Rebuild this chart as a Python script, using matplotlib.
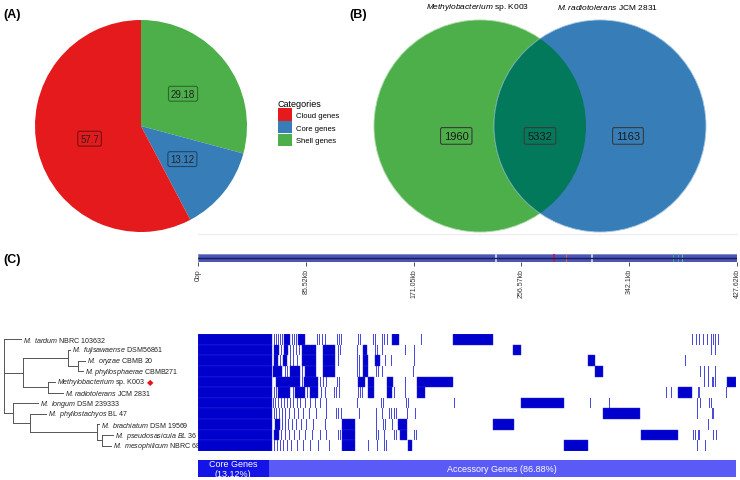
import matplotlib
matplotlib.use('Agg')
import matplotlib.pyplot as plt
from matplotlib.patches import Circle, Patch

plt.rcParams['font.family'] = ['Liberation Sans', 'DejaVu Sans']
plt.rcParams['mathtext.fontset'] = 'custom'
plt.rcParams['mathtext.it'] = 'Liberation Sans:italic'
plt.rcParams['mathtext.rm'] = 'Liberation Sans'

W, H = 740, 481


def box(x0, y0, x1, y1):
    # pixel box (origin top left) -> figure fraction rect
    return [x0 / W, 1 - y1 / H, (x1 - x0) / W, (y1 - y0) / H]


# ---------------- data ----------------
# (A) pan-genome categories (%)
categories = ['Cloud genes', 'Core genes', 'Shell genes']
percent = [57.7, 13.12, 29.18]
cat_colors = ['#E41A1C', '#377EB8', '#4DAF4A']
cat_edges = ['#7A1010', '#1E4568', '#2B6A29']

# (B) venn: only K003, shared, only JCM 2831
venn_names = ['Methylobacterium|sp. K003', 'M.radiotolerans|JCM 2831']
venn_counts = [1960, 5332, 1163]

# (C) genome track
genome_len_kb = 427.62
genome_ticks_kb = [0, 85.52, 171.05, 256.57, 342.1, 427.62]
genome_tick_labels = ['0bp', '85.52kb', '171.05kb', '256.57kb', '342.1kb', '427.62kb']
genome_marks_kb = [236, 282, 292, 312, 377, 381, 384]
genome_mark_colors = ['#C9CBE0', '#B81E50', '#E8663C', '#B9CCCC', '#3AA98E', '#3AA98E', '#6CBBA6']

# (C) tree: leaf = "italic|plain" name, clade = list of (child, branch length)
tree = [
    ('M. tardum|NBRC 103632', 0.050),
    ([
        ([
            ('M. fujisawaense|DSM56861', 0.005),
            ([('M. oryzae|CBMB 20', 0.020), ('M.phyllosphaerae|CBMB271', 0.015)], 0.030),
        ], 0.135),
        ([('Methylobacterium|sp. K003', 0.020), ('M.radiotolerans|JCM 2831', 0.045)], 0.075),
    ], 0.058),
    ([
        ('M. longum|DSM 239333', 0.075),
        ([
            ('M. phyllostachyos|BL 47', 0.048),
            ([
                ('M. brachiatum|DSM 19569', 0.008),
                ([('M. pseudosasicula BL 36|', 0.035), ('M. mesophilicum|NBRC 68', 0.027)], 0.015),
            ], 0.200),
        ], 0.050),
    ], 0.028),
]

# (C) presence/absence along the pan-genome (% of gene clusters), one list per leaf
pa_blocks = [
    [(0, 13.8), (16.0, 17.1), (18.6, 19.9), (36.1, 37.4), (47.4, 54.8)],
    [(0, 13.8), (14.1, 15.1), (16.0, 16.7), (19.3, 21.9), (23.2, 25.5), (30.7, 31.4), (58.6, 60.0)],
    [(0, 13.8), (14.1, 14.9), (15.8, 16.5), (19.3, 21.9), (23.2, 25.5), (30.7, 31.6), (32.9, 33.8), (72.5, 73.8)],
    [(0, 13.8), (13.9, 15.6), (17.1, 19.0), (19.9, 21.9), (23.2, 25.5), (30.7, 31.6), (73.8, 75.3)],
    [(0, 13.8), (14.5, 19.0), (19.7, 22.3), (29.7, 31.0), (31.6, 32.7), (35.1, 36.3), (40.7, 47.4), (98.3, 100)],
    [(0, 13.8), (14.9, 17.1), (18.0, 19.9), (20.8, 22.3), (31.6, 32.7), (35.1, 36.1), (40.7, 42.2), (89.2, 91.8)],
    [(0, 13.8), (60.0, 68.0)],
    [(0, 13.8), (75.3, 82.2)],
    [(0, 13.8), (14.3, 15.2), (26.8, 29.2), (37.2, 38.9), (54.8, 58.7)],
    [(0, 13.8), (14.1, 15.1), (26.8, 29.2), (37.6, 38.9), (82.4, 89.2)],
    [(0, 13.8), (26.8, 29.2), (39.0, 39.8), (68.0, 72.5)],
]
pa_single = [
    [14.1, 14.5, 14.9, 15.2, 15.6, 17.5, 17.8, 18.2, 22.1, 22.5, 23.1, 23.6, 25.8, 26.2, 26.6, 29.7, 30.1,
     32.5, 32.9, 34.2, 34.6, 35.1, 41.5, 91.8, 92.6, 93.1, 93.9, 94.6, 95.4, 95.7, 96.1, 96.7],
    [15.4, 17.1, 17.7, 18.2, 18.8, 26.0, 26.4, 29.6, 32.9, 33.3, 34.2, 38.5, 40.2, 95.4, 96.1],
    [15.2, 17.1, 17.7, 18.4, 26.0, 29.6, 29.9, 34.8, 35.9, 40.2, 90.5],
    [16.2, 16.5, 19.3, 29.6, 29.9, 33.1, 33.5, 34.2, 40.0, 93.3, 94.1, 94.8, 96.1],
    [19.3, 22.7, 23.2, 23.8, 25.8, 26.2, 38.5, 94.1, 94.8, 95.6, 96.1],
    [14.1, 14.5, 17.7, 20.3, 22.9, 23.6, 25.3, 25.7, 26.2, 29.7, 30.1, 30.5, 36.4, 38.5, 87.0, 87.9, 93.0, 98.2],
    [13.9, 14.3, 14.9, 15.4, 16.0, 16.5, 17.1, 17.7, 18.4, 19.0, 19.9, 20.8, 21.8, 22.7, 23.8, 29.6, 34.0,
     34.4, 38.7, 39.0, 47.6, 72.9, 76.4, 92.8, 93.3, 95.0, 95.4],
    [14.1, 14.5, 15.1, 15.6, 16.2, 16.9, 17.8, 18.6, 19.5, 20.6, 21.9, 23.8, 25.7, 26.0, 26.6, 29.9, 33.1,
     34.2, 35.5, 35.9, 36.4, 36.8, 38.9, 40.3, 92.8, 95.6],
    [15.6, 16.2, 16.7, 17.5, 18.2, 19.1, 20.1, 21.4, 23.6, 33.1, 34.4, 34.8, 36.1, 94.8],
    [15.4, 16.2, 16.9, 17.8, 18.8, 19.9, 21.2, 22.7, 23.8, 26.0, 26.4, 33.1, 33.5, 34.6, 36.4, 36.8, 40.2,
     40.5, 92.0, 92.4, 93.0, 95.7, 96.3],
    [14.1, 14.7, 15.2, 15.8, 16.5, 17.3, 18.4, 19.5, 20.8, 22.3, 24.4, 31.6, 33.3, 34.6, 34.9, 92.8, 94.2],
]


def label_text(name):
    it, plain = name.split('|')
    s = r'$\it{' + it.replace(' ', r'\ ') + '}$'
    if plain:
        s += ' ' + plain
    return s


fig = plt.figure(figsize=(7.4, 4.81), dpi=100)

# ---------------- (A) pie ----------------
ax_pie = fig.add_axes(box(35, 21, 247, 233))
order = [2, 1, 0]  # clockwise from 12 o'clock: shell, core, cloud
wedges, texts = ax_pie.pie([percent[i] for i in order], colors=[cat_colors[i] for i in order],
                           labels=[str(percent[i]) for i in order], labeldistance=0.5,
                           startangle=90, counterclock=False,
                           textprops=dict(fontsize=7, color='#222222', ha='center', va='center'))
for t, i in zip(texts, order):
    t.set_bbox(dict(boxstyle='round,pad=0.25,rounding_size=0.2', fc='none', ec=cat_edges[i], lw=0.8))
ax_pie.set_xlim(-1, 1)
ax_pie.set_ylim(-1, 1)

handles = [Patch(fc=c, ec='none') for c in cat_colors]
leg = fig.legend(handles, categories, title='Categories', loc='upper left',
                 bbox_to_anchor=(278 / W, 1 - 100 / H), frameon=False, fontsize=5.5,
                 title_fontsize=6.5, handlelength=1.8, handleheight=2.1, labelspacing=0.05,
                 handletextpad=0.5, borderpad=0, borderaxespad=0, alignment='left')

# ---------------- (B) venn ----------------
ax_v = fig.add_axes(box(360, 20, 720, 240))
ax_v.set_xlim(-1.698, 1.698)
ax_v.set_ylim(-1.066, 1.009)
ax_v.axis('off')
c_left = Circle((-0.566, 0), 1, fc='#4DAF4A', ec='#A9D8A6', lw=0.6)
c_right = Circle((0.566, 0), 1, fc='#377EB8', ec='#A6C6E2', lw=0.6)
ax_v.add_patch(c_left)
ax_v.add_patch(c_right)
lens = Circle((0.566, 0), 1, fc='#03795B', ec='#6FB0A0', lw=0.6)
ax_v.add_patch(lens)
lens.set_clip_path(c_left)
for x, n in zip([-0.79, 0.0, 0.83], venn_counts):
    ax_v.text(x, -0.094, str(n), ha='center', va='center', fontsize=8, color='#1a1a1a',
              bbox=dict(boxstyle='round,pad=0.3,rounding_size=0.15', fc='none', ec='#3a3a3a', lw=0.8))
for x, n in zip([-0.59, 0.64], venn_names):
    ax_v.text(x, 1.13, label_text(n), ha='center', va='center', fontsize=6, clip_on=False)

# ---------------- (C) genome track ----------------
fig.add_artist(plt.Line2D([198 / W, 737 / W], [1 - 235 / H] * 2, color='#EEEEF2', lw=1))
ax_g = fig.add_axes(box(198, 255, 737, 263))
ax_g.barh(0.5, genome_len_kb, height=1, left=0, color='#4B56B2', edgecolor='#8088C8', lw=0.6)
for kb, c in zip(genome_marks_kb, genome_mark_colors):
    ax_g.barh(0.5, 1.0, height=1, left=kb, color=c, lw=0)
ax_g.axhline(0.5, color='#161B66', lw=1)
ax_g.set_xlim(0, genome_len_kb)
ax_g.set_ylim(0, 1)
ax_g.set_yticks([])
for s in ax_g.spines.values():
    s.set_visible(False)
ax_g.set_xticks(genome_ticks_kb)
ax_g.set_xticklabels(genome_tick_labels, rotation=90, fontsize=5, color='#333333')
ax_g.tick_params(axis='x', length=3, width=0.6, color='#333333', pad=1.5)

# ---------------- (C) presence/absence heatmap ----------------
ax_h = fig.add_axes(box(198, 335, 736, 452))
n_rows = len(pa_blocks)
for i in range(n_rows):
    ax_h.broken_barh([(s, e - s) for s, e in pa_blocks[i]], (i, 1), facecolors='#0000CD',
                     edgecolors='#2A2AE0', lw=0.3)
    ax_h.broken_barh([(p, 0.22) for p in pa_single[i]], (i, 1), facecolors='#4A4ADF', lw=0)
ax_h.set_xlim(0, 100)
ax_h.set_ylim(n_rows, 0)
ax_h.axis('off')

# core / accessory bar
core_pct = percent[1]
ax_b = fig.add_axes(box(198, 461, 736, 478))
ax_b.barh(0.5, core_pct, height=1, left=0, color='#1414E6')
ax_b.barh(0.5, 100 - core_pct, height=1, left=core_pct, color='#5A5AF7')
ax_b.text(core_pct / 2, 0.5, 'Core Genes\n(%.2f%%)' % core_pct, ha='center', va='center',
          fontsize=6.5, color='white', linespacing=1.1)
ax_b.text((100 + core_pct) / 2, 0.5, 'Accessory Genes (%.2f%%)' % (100 - core_pct), ha='center',
          va='center', fontsize=6.5, color='white')
ax_b.set_xlim(0, 100)
ax_b.set_ylim(0, 1)
ax_b.axis('off')

# ---------------- (C) tree ----------------
ax_t = fig.add_axes(box(0, 335, 198, 452))
ax_t.set_xlim(-0.012, 0.582)
ax_t.set_ylim(n_rows, 0)
ax_t.axis('off')
tree_col = '#555555'
leaves = []


def draw_clade(node, x):
    # returns y of this node; node is a list of (child, length)
    ys = []
    for child, length in node:
        xc = x + length
        if isinstance(child, str):
            yc = len(leaves) + 0.5
            leaves.append((child, xc, yc))
        else:
            yc = draw_clade(child, xc)
        ax_t.plot([x, xc], [yc, yc], color=tree_col, lw=0.7)
        ys.append(yc)
    ax_t.plot([x, x], [ys[0], ys[-1]], color=tree_col, lw=0.7)
    return (ys[0] + ys[-1]) / 2


draw_clade(tree, 0.0)
for name, x, y in leaves:
    t = ax_t.text(x + 0.006, y, label_text(name), va='center', ha='left', fontsize=5.1,
                  color='#222222', clip_on=True)
    if 'K003' in name:
        ax_t.annotate('\u25C6', xy=(1, 0.5), xycoords=t, xytext=(1.5, 0), textcoords='offset points',
                      ha='left', va='center', color='#E8141C', fontsize=6, family='DejaVu Sans')

# panel letters
fig.text(3 / W, 1 - 15 / H, '(A)', fontsize=9, fontweight='bold', va='center')
fig.text(349 / W, 1 - 15 / H, '(B)', fontsize=9, fontweight='bold', va='center')
fig.text(3 / W, 1 - 260 / H, '(C)', fontsize=9, fontweight='bold', va='center')

fig.savefig('out.png', dpi=100)
